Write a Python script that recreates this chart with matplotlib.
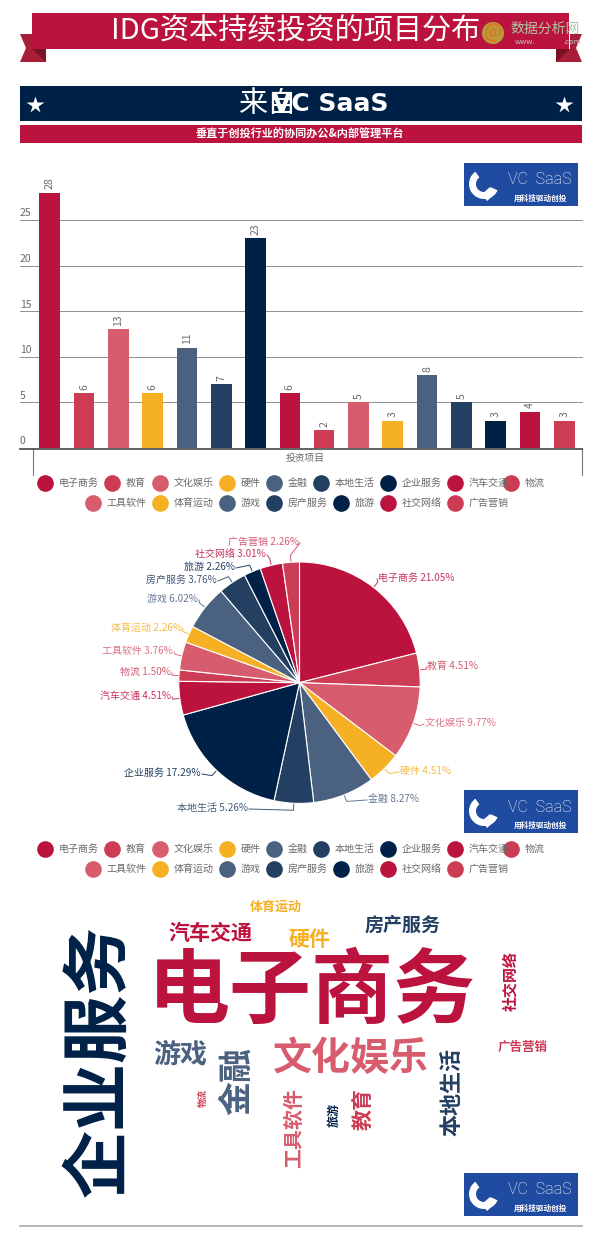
import numpy as np
import matplotlib
matplotlib.use("Agg")
import matplotlib.pyplot as plt
from matplotlib.patches import Rectangle, Polygon, Circle, Wedge

plt.rcParams["font.family"] = ["Noto Sans CJK SC", "DejaVu Sans"]

# Data
categories = ["电子商务", "教育", "文化娱乐", "硬件", "金融", "本地生活", "企业服务", "汽车交通",
              "物流", "工具软件", "体育运动", "游戏", "房产服务", "旅游", "社交网络", "广告营销"]
values = [28, 6, 13, 6, 11, 7, 23, 6, 2, 5, 3, 8, 5, 3, 4, 3]
y_ticks = [0, 5, 10, 15, 20, 25]
palette = ["#BB133E", "#CC3D55", "#D75C6E", "#F5B024", "#4A6280", "#233F61", "#002147"]

W, H = 600, 1246
colors = [palette[i % 7] for i in range(len(categories))]
GREY = "#6a6a6a"

fig = plt.figure(figsize=(W / 100, H / 100), dpi=100, facecolor="white")
bg = fig.add_axes([0, 0, 1, 1])
bg.set_xlim(0, W)
bg.set_ylim(H, 0)
bg.axis("off")


def px_axes(x0, y0, x1, y1):
    return fig.add_axes([x0 / W, 1 - y1 / H, (x1 - x0) / W, (y1 - y0) / H])


def rect(x0, y0, x1, y1, color, z=1):
    bg.add_patch(Rectangle((x0, y0), x1 - x0, y1 - y0, fc=color, ec="none", zorder=z))


# Header ribbon
for sign, edge in [(1, 20), (-1, 582)]:
    pts = [(0, 34), (12, 34), (12, 49), (26, 49), (26, 62), (0, 62), (6, 48)]
    bg.add_patch(Polygon([(edge + sign * a, b) for a, b in pts], fc="#A81E38", ec="none"))
    fold = [(12, 49), (26, 49), (26, 62)]
    bg.add_patch(Polygon([(edge + sign * a, b) for a, b in fold], fc="#7A1226", ec="none"))
rect(32, 13, 569, 49, "#BB133E", 2)
bg.text(296, 31, "IDG资本持续投资的项目分布", color="white", fontsize=21, ha="center", va="center", zorder=3)

# Watermark
bg.add_patch(Circle((493, 33), 11, fc="#B7B63C", ec="none", alpha=0.85, zorder=4))
bg.text(493, 33, "@", color="#D9792B", fontsize=13, fontweight="bold", ha="center", va="center", zorder=5)
bg.text(545, 29, "数据分析网", color="#A9C9A4", fontsize=10, ha="center", va="center", zorder=5)
bg.text(525, 42, "www.", color="#c4c4c4", fontsize=5.5, ha="center", va="center", zorder=5)
bg.text(572, 42, ".com", color="#c4c4c4", fontsize=5.5, ha="center", va="center", zorder=5)

# Navy band and sub band
rect(20, 86, 582, 121, "#002147")
rect(20, 125, 582, 143, "#BB133E")
bg.plot([35, 564], [105, 105], ls="none", marker="*", ms=13, color="white", mec="none")
bg.text(267, 104, "来自", color="white", fontsize=21, ha="center", va="center")
bg.text(330, 104, "VC SaaS", color="white", fontsize=18, fontweight="bold",
        family=["Liberation Sans Narrow", "DejaVu Sans"], ha="center", va="center")
bg.text(300, 134.5, "垂直于创投行业的协同办公&内部管理平台", color="white", fontsize=8,
        fontweight="bold", ha="center", va="center")


def logo(y):
    rect(464, y, 578, y + 43, "#1F4BA0")
    cx, cy = 484, y + 21
    bg.add_patch(Wedge((cx, cy), 15, 25, 235, width=7, fc="white", ec="none", zorder=3))
    bg.add_patch(Polygon([(cx + 6, cy + 3), (cx + 12, cy + 9), (cx + 3, cy + 17), (cx - 2, cy + 10)],
                         fc="white", ec="none", zorder=3))
    bg.text(540, y + 17, "VC  SaaS", color="white", fontsize=11.5, family=["Roboto", "DejaVu Sans"],
            fontweight="light", ha="center", va="center", zorder=3)
    bg.text(540, y + 35, "用科技驱动创投", color="white", fontsize=5.5, fontweight="bold",
            ha="center", va="center", zorder=3)


for y in [163, 790, 1173]:
    logo(y)


def legend(y0):
    rows = [(0, 9, 45, [0, 67, 115, 181.5, 228.5, 276, 343, 409.6, 466]),
            (9, 16, 92.7, [0, 67.3, 133.8, 180.8, 248.3, 295.3, 361.9])]
    for row, (a, b, x0, offs) in enumerate(rows):
        y = y0 + row * 20
        for i, off in zip(range(a, b), offs):
            bg.plot(x0 + off, y, "o", ms=12, color=colors[i], mec="none")
            bg.text(x0 + off + 14, y, categories[i], color=GREY, fontsize=7.2, va="center", ha="left")


legend(483)
legend(849)

# Bar chart
ax = px_axes(32.5, 180, 581.5, 448)
ax.patch.set_alpha(0)
x = np.arange(len(categories))
ax.bar(x, values, width=0.6, color=colors, zorder=3)
ax.set_xlim(-0.5, 15.5)
ax.set_ylim(0, 268 / 9.12)
for t in y_ticks[1:]:
    ax.axhline(t, xmin=-12.5 / 549, xmax=1, color="#8f8f8f", lw=0.7, clip_on=False, zorder=1)
for t in y_ticks:
    ax.annotate(str(t), (-0.5, t), xytext=(-12.5, 1.5), textcoords="offset pixels", color=GREY,
                fontsize=7.5, ha="left", va="bottom", annotation_clip=False)
for xi, v in zip(x, values):
    ax.text(xi, v + 0.35, str(v), rotation=90, color=GREY, fontsize=7.5, ha="center", va="bottom")
ax.axis("off")
bg.plot([20, 582], [448.5, 448.5], color="#555555", lw=1.3, zorder=4)
bg.plot([32.5, 32.5], [448, 475], color="#777777", lw=0.8)
bg.plot([581.5, 581.5], [448, 475], color="#777777", lw=0.8)
bg.text(305, 458, "投资项目", color=GREY, fontsize=7, ha="center", va="center")

# Pie chart
PCX, PCY, R = 299.5, 682.7, 120.7
pie_ax = px_axes(PCX - R, PCY - R, PCX + R, PCY + R)
wedges, _ = pie_ax.pie(values, colors=colors, startangle=90, counterclock=False, radius=1,
                       wedgeprops={"edgecolor": "white", "linewidth": 0.8})
pie_ax.set_xlim(-1, 1)
pie_ax.set_ylim(-1, 1)

# label anchor (x, y, ha) in picture pixels
label_pos = [(378, 578, "left"), (427, 666, "left"), (425, 723, "left"), (400, 771, "left"),
             (368, 799, "left"), (248, 808, "right"), (201, 773, "right"), (171, 696, "right"),
             (171, 672, "right"), (173, 651, "right"), (182, 628, "right"), (198, 599, "right"),
             (217, 580, "right"), (235, 567, "right"), (266, 554, "right"), (299, 542, "right")]
total = sum(values)
for i, w in enumerate(wedges):
    mid = np.deg2rad((w.theta1 + w.theta2) / 2)
    lx, ly, ha = label_pos[i]
    px, py = PCX + R * np.cos(mid), PCY - R * np.sin(mid)
    ex, ey = PCX + (R + 7) * np.cos(mid), PCY - (R + 7) * np.sin(mid)
    end = lx - 1 if ha == "left" else lx + 1
    bg.plot([px, ex, end], [py, ey, ly + 1], color=colors[i], lw=0.7, alpha=0.85, zorder=0.5)
    bg.text(lx, ly, f"{categories[i]} {values[i] / total * 100:.2f}%", color=colors[i], alpha=0.85,
            fontsize=7.2, ha=ha, va="center", bbox=None)

# Word cloud: (index, center x, center y, char px, rotation)
cloud = [(0, 312, 993, 82, 0), (6, 100, 1061, 68, 90), (2, 351, 1058, 39, 0), (11, 180, 1054, 27, 0),
         (4, 237, 1081, 34, 90), (5, 452, 1092, 22, 90), (9, 294, 1128, 20, 90), (1, 363, 1109, 21, 90),
         (13, 334, 1115, 12, 90), (8, 203, 1098, 9, 90), (14, 510, 981, 15, 90), (15, 523, 1047, 12.5, 0),
         (7, 210, 933, 21, 0), (3, 310, 939, 21, 0), (12, 403, 925, 19, 0), (10, 276, 907, 13, 0)]
for i, cx, cy, size, rot in cloud:
    bg.text(cx, cy, categories[i], color=colors[i], fontsize=size * 0.72, fontweight="bold",
            rotation=rot, ha="center", va="center")

bg.plot([20, 582], [1225.5, 1225.5], color="#aaaaaa", lw=1.2)

fig.savefig("out.png", dpi=100)
